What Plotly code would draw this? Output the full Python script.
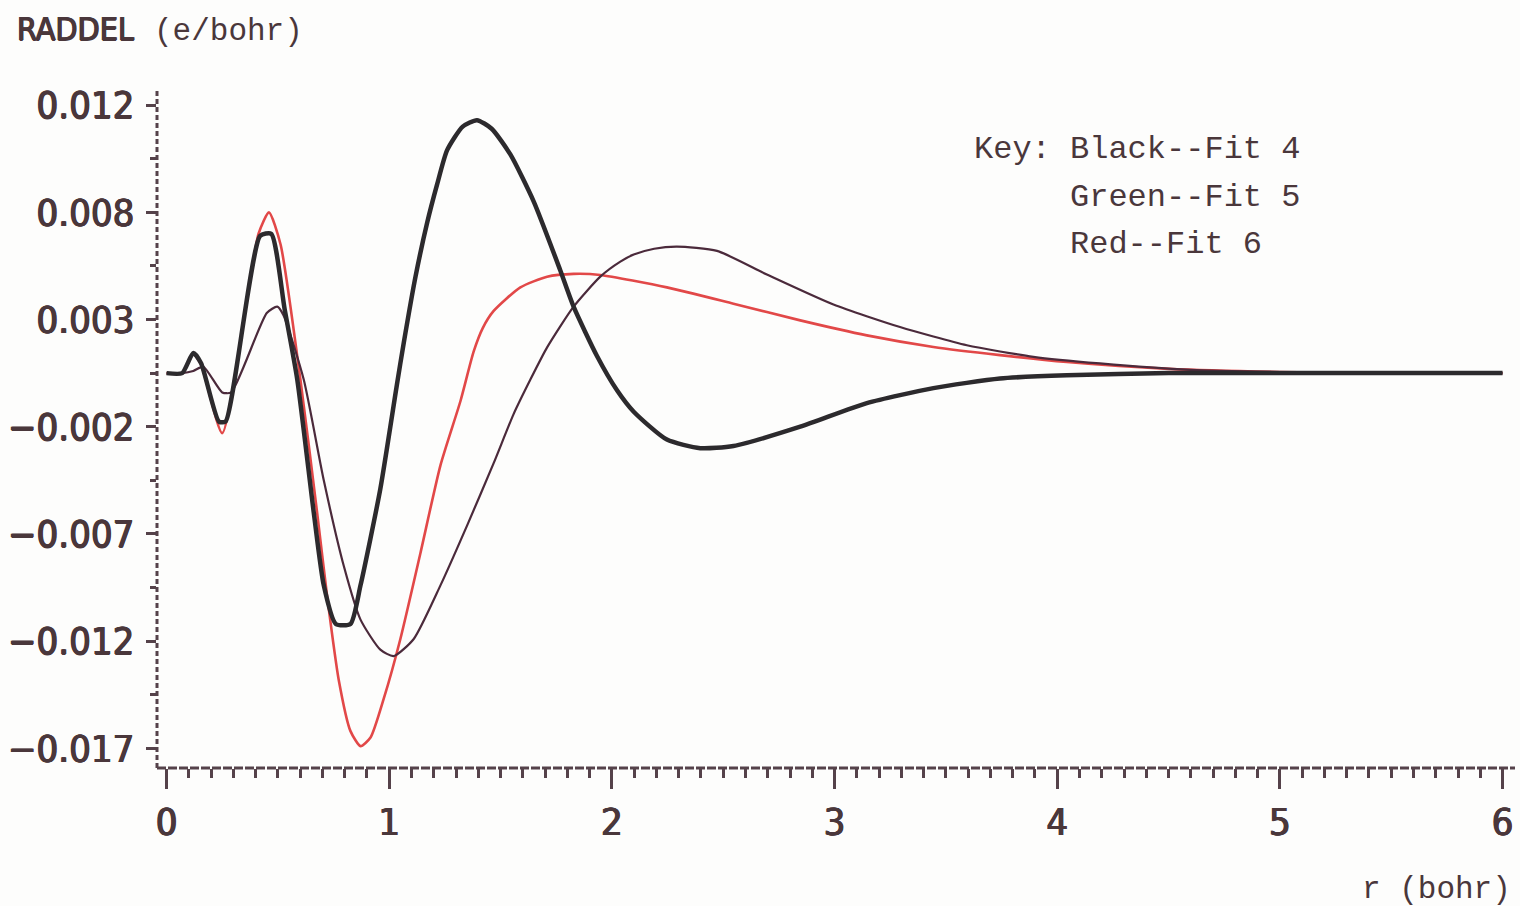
import plotly.graph_objects as go

# Radial deformation density RADDEL (e/bohr) against r (bohr) for three fits
r_fit4 = [0.0, 0.07, 0.12, 0.155, 0.235, 0.265, 0.42, 0.47, 0.53, 0.587, 0.661, 0.706,
          0.76, 0.826, 0.871, 0.96, 1.035, 1.065, 1.118, 1.17, 1.215, 1.26, 1.33, 1.394,
          1.46, 1.544, 1.649, 1.768, 1.828, 1.933, 2.023, 2.098, 2.247, 2.397, 2.546,
          2.846, 3.145, 3.444, 3.743, 4.043, 4.5, 5.0, 5.5, 6.0]
raddel_fit4 = [0.0, 0.0, 0.00094, 0.00046, -0.00226, -0.00226, 0.0064, 0.0065, 0.0030,
               -0.0003, -0.0065, -0.0099, -0.0117, -0.0117, -0.0099, -0.0054, -0.0005,
               0.0014, 0.0045, 0.0070, 0.0088, 0.0104, 0.0115, 0.0118, 0.0114, 0.0102,
               0.0080, 0.0048, 0.0031, 0.0008, -0.0008, -0.0018, -0.0031, -0.0035,
               -0.0034, -0.0025, -0.0014, -0.0007, -0.00025, -0.0001, 0.0, 0.0, 0.0, 0.0]

r_fit5 = [0.0, 0.07, 0.12, 0.165, 0.25, 0.29, 0.45, 0.497, 0.525, 0.616, 0.706, 0.796,
          0.871, 0.96, 1.02, 1.11, 1.23, 1.35, 1.469, 1.559, 1.634, 1.709, 1.828, 1.948,
          2.038, 2.098, 2.19, 2.292, 2.472, 2.696, 2.995, 3.294, 3.594, 3.893, 4.192, 4.6,
          5.0, 5.5, 6.0]
raddel_fit5 = [0.0, 0.0, 0.0001, 0.0003, -0.0009, -0.0009, 0.0028, 0.0031, 0.0027,
               -0.0003, -0.0050, -0.0090, -0.0115, -0.0129, -0.0132, -0.0124, -0.0099,
               -0.0071, -0.0042, -0.0019, -0.0003, 0.0012, 0.0031, 0.0045, 0.0052,
               0.00553, 0.0058, 0.0059, 0.0057, 0.0046, 0.0032, 0.00215, 0.0013, 0.00076,
               0.00045, 0.00015, 0.00005, 0.0, 0.0]

r_fit6 = [0.0, 0.07, 0.12, 0.155, 0.25, 0.413, 0.46, 0.512, 0.601, 0.676, 0.721, 0.773,
          0.826, 0.871, 0.916, 0.975, 1.05, 1.14, 1.23, 1.32, 1.379, 1.42, 1.469, 1.589,
          1.709, 1.828, 1.948, 2.247, 2.546, 2.846, 3.145, 3.444, 3.743, 4.043, 4.5, 5.0,
          5.5, 6.0]
raddel_fit6 = [0.0, 0.0, 0.0009, 0.0004, -0.0028, 0.0065, 0.0075, 0.0060, -0.0003,
               -0.0065, -0.0104, -0.0143, -0.0167, -0.0174, -0.0170, -0.0152, -0.0124,
               -0.0084, -0.0043, -0.0013, 0.0010, 0.0021, 0.0029, 0.0040, 0.0045,
               0.00463, 0.00458, 0.0040, 0.00324, 0.00246, 0.00176, 0.00122, 0.00084,
               0.00052, 0.0002, 0.00005, 0.0, 0.0]

y_tick_vals = [0.0125, 0.0075, 0.0025, -0.0025, -0.0075, -0.0125, -0.0175]
y_tick_text = ["0.012", "0.008", "0.003", "\u22120.002", "\u22120.007", "\u22120.012", "\u22120.017"]
x_tick_vals = [0, 1, 2, 3, 4, 5, 6]

key_lines = ["Black--Fit 4", "Green--Fit 5", "Red--Fit 6"]

INK = "#4a373b"
AXIS = "#55424a"
COND_FONT = "DejaVu Sans Condensed, DejaVu Sans, sans-serif"
MONO_FONT = "Liberation Mono, DejaVu Sans Mono, monospace"
# heavier plotter-style strokes for the numerals and the quantity name
HEAVY = f"0.7px 0 0 {INK}, -0.7px 0 0 {INK}, 0 0.5px 0 {INK}"

# plot area in pixels (page is 1520 x 906)
L, R, T, B = 157, 1515, 88, 768
W, H = 1520, 906


def px(xp):
    return (xp - L) / (R - L)


def py(yp):
    return (B - yp) / (B - T)


fig = go.Figure()
fig.add_trace(go.Scatter(x=r_fit6, y=raddel_fit6, mode="lines",
                         line=dict(color="#e24848", width=2.6, shape="spline", smoothing=0.6),
                         name="Fit 6"))
fig.add_trace(go.Scatter(x=r_fit5, y=raddel_fit5, mode="lines",
                         line=dict(color="#4b2a3b", width=2.2, shape="spline", smoothing=0.6),
                         name="Fit 5"))
fig.add_trace(go.Scatter(x=r_fit4, y=raddel_fit4, mode="lines",
                         line=dict(color="#2c2a2d", width=4.5, shape="spline", smoothing=0.6),
                         name="Fit 4"))

annotations = [
    dict(text="RADDEL", x=px(15), y=py(29), xanchor="left", yanchor="middle",
         font=dict(family=COND_FONT, size=32, color=INK, shadow=HEAVY)),
    dict(text="(e/bohr)", x=px(152), y=py(31), xanchor="left", yanchor="middle",
         font=dict(family=MONO_FONT, size=31, color=INK)),
    dict(text="r (bohr)", x=px(1513), y=py(889), xanchor="right", yanchor="middle",
         font=dict(family=MONO_FONT, size=31, color=INK)),
    dict(text="Key:", x=px(972), y=py(149), xanchor="left", yanchor="middle",
         font=dict(family=MONO_FONT, size=32, color=INK)),
]
for i, line in enumerate(key_lines):
    annotations.append(dict(text=line, x=px(1068), y=py(149 + 48 * i),
                            xanchor="left", yanchor="middle",
                            font=dict(family=MONO_FONT, size=32, color=INK)))
for a in annotations:
    a.update(xref="paper", yref="paper", showarrow=False)

fig.update_layout(
    width=W, height=H,
    margin=dict(l=L, r=W - R, t=T, b=H - B, pad=0, autoexpand=False),
    paper_bgcolor="#fdfdfc", plot_bgcolor="#fdfdfc",
    showlegend=False,
    annotations=annotations,
    shapes=[
        dict(type="line", xref="paper", yref="paper", x0=0, x1=0, y0=0, y1=1,
             line=dict(color=AXIS, width=3, dash="5px,3px")),
        dict(type="line", xref="paper", yref="paper", x0=0, x1=1, y0=0, y1=0,
             line=dict(color=AXIS, width=3, dash="9px,2px")),
    ],
)

fig.update_xaxes(
    range=[-0.043, 6.056], showgrid=False, zeroline=False, showline=False,
    automargin=False,
    tickmode="array", tickvals=x_tick_vals, ticktext=[str(v) for v in x_tick_vals],
    ticks="outside", ticklen=20, tickwidth=3, tickcolor=AXIS,
    ticklabelstandoff=0,
    tickfont=dict(family=COND_FONT, size=38, color=INK, shadow=HEAVY),
    minor=dict(ticks="outside", tick0=0, dtick=0.1, ticklen=9, tickwidth=2.5,
               tickcolor=AXIS, showgrid=False),
)
fig.update_yaxes(
    range=[-0.01842, 0.0133], showgrid=False, zeroline=False, showline=False,
    automargin=False,
    tickmode="array", tickvals=y_tick_vals, ticktext=y_tick_text,
    ticks="outside", ticklen=10, tickwidth=2.5, tickcolor=AXIS,
    ticklabelstandoff=4,
    tickfont=dict(family=COND_FONT, size=38, color=INK, shadow=HEAVY),
    minor=dict(ticks="outside", tick0=0, dtick=0.005, ticklen=6, tickwidth=2.5,
               tickcolor=AXIS, showgrid=False),
)

fig.write_html("out.html")
